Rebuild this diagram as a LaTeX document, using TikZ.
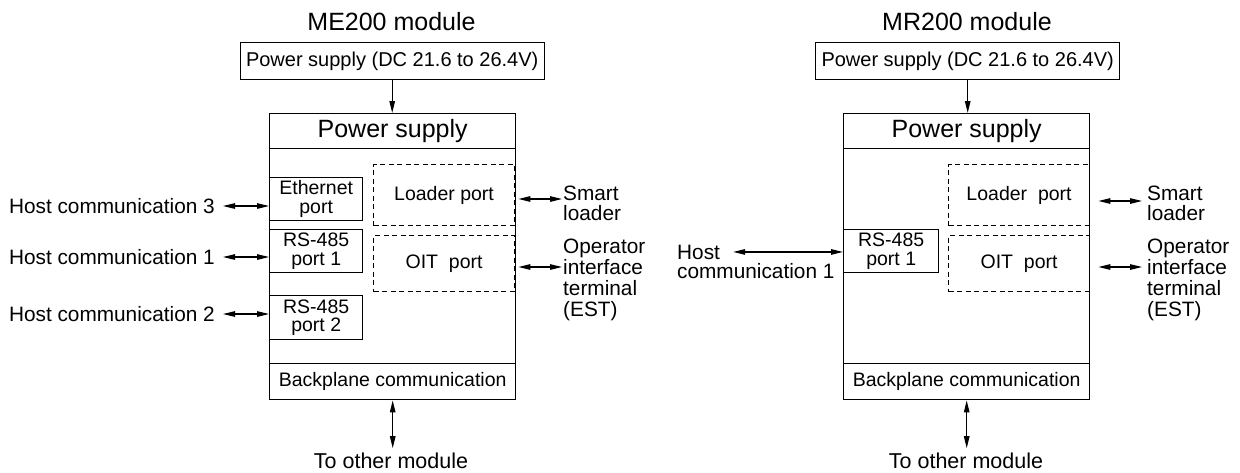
\documentclass[tikz,border=0pt]{standalone}
\usepackage{fontspec}
\setmainfont{Liberation Sans}
\usetikzlibrary{arrows.meta,calc}
\begin{document}
\begin{tikzpicture}[x=1pt,y=-1pt,
  box/.style={draw, line width=1.4pt, inner sep=0pt, anchor=north west},
  dbox/.style={draw, dash pattern=on 5pt off 3.5pt, line width=1.1pt, inner sep=0pt, anchor=north west},
  lbl/.style={inner sep=0pt, font=\fontsize{19.5}{18.5}\selectfont},
  olbl/.style={inner sep=0pt, font=\fontsize{20.8}{20}\selectfont},
  lblc/.style={lbl, align=center},
  big/.style={inner sep=0pt, font=\fontsize{25}{28}\selectfont},
  mid/.style={inner sep=0pt, font=\fontsize{20}{22}\selectfont},
  tip/.tip={Triangle[length=12pt,width=5.5pt]},
  arr/.style={line width=1.2pt, -tip},
  darr/.style={line width=1.2pt, tip-tip},
]
\useasboundingbox (0,0) rectangle (1240,472);

% ================= Left module (ME200) =================
\node[big, anchor=base] (titleL) at (391.5,30) {ME200 module};
\node[box, minimum width=304pt, minimum height=37pt] (topL) at (239.5,42) {};
\node[mid] at (topL) {Power supply (DC 21.6 to 26.4V)};
\node[box, minimum width=246pt, minimum height=286pt] (mainL) at (269,113) {};
\node[box, minimum width=246pt, minimum height=35pt] (psL) at (269,113) {};
\node[big] at (psL) {Power supply};
\node[box, minimum width=246pt, minimum height=36pt] (bpL) at (269,363) {};
\node[lbl] at (bpL) {Backplane communication};

\node[box, minimum width=93pt, minimum height=43pt] (ethL) at (269,177) {};
\node[lblc] at (ethL) {Ethernet\\port};
\node[box, minimum width=93pt, minimum height=43pt] (rs1L) at (269,229) {};
\node[lblc] at (rs1L) {RS-485\\port 1};
\node[box, minimum width=93pt, minimum height=44pt] (rs2L) at (269,295) {};
\node[lblc] at (rs2L) {RS-485\\port 2};

\node[dbox, minimum width=141pt, minimum height=61pt] (ldL) at (373,164) {};
\node[lbl] at (ldL) {Loader port};
\node[dbox, minimum width=141pt, minimum height=56pt] (oitL) at (373,235) {};
\node[lbl] at (oitL) {OIT\ \ port};

\node[olbl, anchor=east] (h3) at (215,206) {Host communication 3};
\node[olbl, anchor=east] (h1) at (215,257) {Host communication 1};
\node[olbl, anchor=east] (h2) at (215,314) {Host communication 2};
\draw[darr, shorten <=8pt] (h3.east) -- (h3.east -| mainL.west);
\draw[darr, shorten <=8pt] (h1.east) -- (h1.east -| mainL.west);
\draw[darr, shorten <=8pt] (h2.east) -- (h2.east -| mainL.west);

\node[olbl, anchor=base west] (smL) at (563,200.5) {Smart};
\node[olbl, anchor=base west] (loL) at (563,220) {loader};
\coordinate (aSL) at (562,199);
\draw[darr, shorten <=2pt] (mainL.east |- aSL) -- (aSL);

\node[olbl, anchor=base west] (op1L) at (563,253) {Operator};
\node[olbl, anchor=base west] (op2L) at (563,274) {interface};
\node[olbl, anchor=base west] (op3L) at (563,295) {terminal};
\node[olbl, anchor=base west] (op4L) at (563,316) {(EST)};
\coordinate (aOL) at (562,267);
\draw[darr, shorten <=2pt] (mainL.east |- aOL) -- (aOL);

\draw[arr] (topL.south) -- (topL.south |- mainL.north);
\node[inner sep=0pt, font=\fontsize{21.5}{24}\selectfont, anchor=base] (toL) at (391,468) {To other module};
\draw[darr, shorten >=4pt] (mainL.south) -- (mainL.south |- toL.north);

% ================= Right module (MR200) =================
\node[big, anchor=base] (titleR) at (967,30) {MR200 module};
\node[box, minimum width=304pt, minimum height=37pt] (topR) at (815,42) {};
\node[mid] at (topR) {Power supply (DC 21.6 to 26.4V)};
\node[box, minimum width=246pt, minimum height=286pt] (mainR) at (843,113) {};
\node[box, minimum width=246pt, minimum height=35pt] (psR) at (843,113) {};
\node[big] at (psR) {Power supply};
\node[box, minimum width=246pt, minimum height=36pt] (bpR) at (843,363) {};
\node[lbl] at (bpR) {Backplane communication};

\node[box, minimum width=95pt, minimum height=43pt] (rs1R) at (843,229) {};
\node[lblc] at (rs1R) {RS-485\\port 1};

\node[dbox, minimum width=141pt, minimum height=61pt] (ldR) at (948,164) {};
\node[lbl] at (ldR) {Loader\ \ port};
\node[dbox, minimum width=141pt, minimum height=56pt] (oitR) at (948,235) {};
\node[lbl] at (oitR) {OIT\ \ port};

\node[olbl, anchor=base west] (hR1) at (677,259) {Host};
\node[olbl, anchor=base west] (hR2) at (677,278.5) {communication 1};
\draw[darr, shorten <=13pt] (hR1.east) -- (hR1.east -| mainR.west);

\node[olbl, anchor=base west] (smR) at (1147,200.5) {Smart};
\node[olbl, anchor=base west] (loR) at (1147,220) {loader};
\coordinate (aSR) at (1142,201);
\draw[darr, shorten <=8pt] (mainR.east |- aSR) -- (aSR);

\node[olbl, anchor=base west] (op1R) at (1147,253) {Operator};
\node[olbl, anchor=base west] (op2R) at (1147,274) {interface};
\node[olbl, anchor=base west] (op3R) at (1147,295) {terminal};
\node[olbl, anchor=base west] (op4R) at (1147,316) {(EST)};
\coordinate (aOR) at (1142,267);
\draw[darr, shorten <=8pt] (mainR.east |- aOR) -- (aOR);

\draw[arr] (topR.south) -- (topR.south |- mainR.north);
\node[inner sep=0pt, font=\fontsize{21.5}{24}\selectfont, anchor=base] (toR) at (966,468) {To other module};
\draw[darr, shorten >=4pt] (mainR.south) -- (mainR.south |- toR.north);
\end{tikzpicture}
\end{document}
